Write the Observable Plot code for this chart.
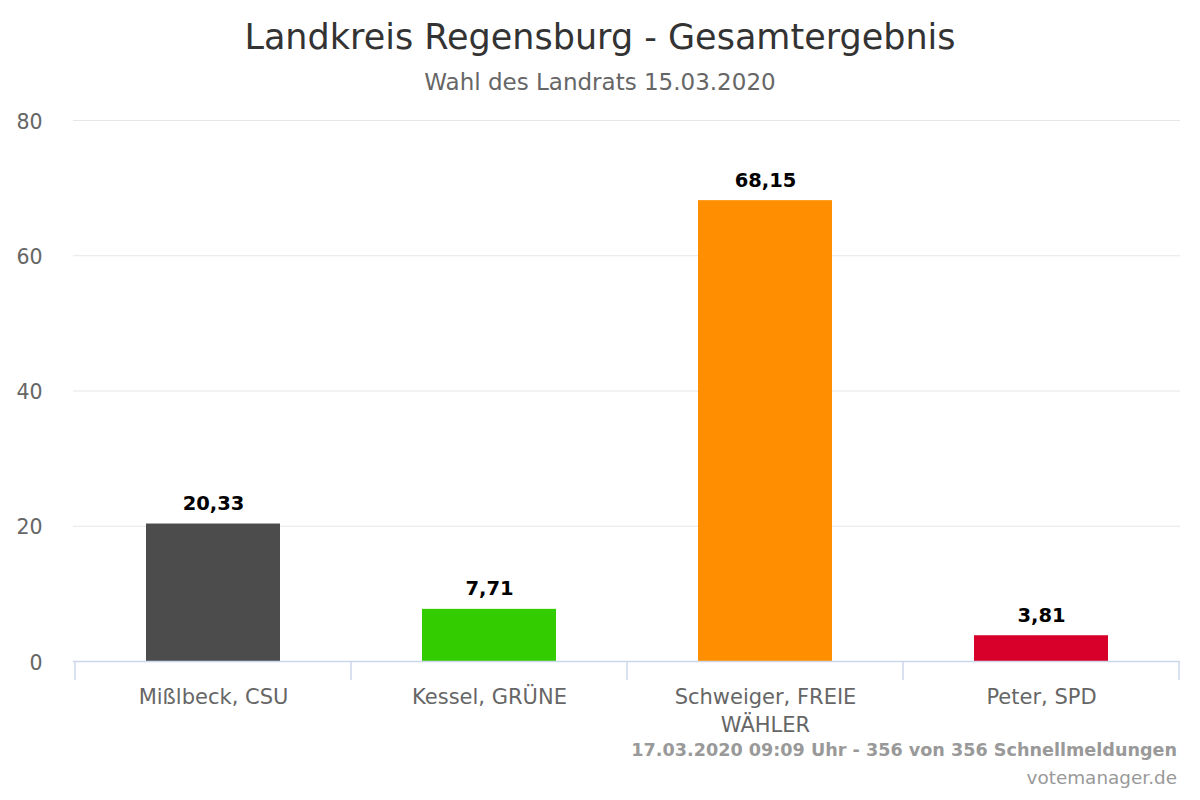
<!DOCTYPE html>
<html>
<head>
<meta charset="utf-8">
<script src="https://cdn.jsdelivr.net/npm/d3@7"></script>
<script src="https://cdn.jsdelivr.net/npm/@observablehq/plot@0.6"></script>
<style>
  html, body { margin: 0; padding: 0; background: #fff; }
  #wrap { position: relative; width: 1200px; height: 800px; font-family: "DejaVu Sans", sans-serif; }
  #wrap div.t { position: absolute; line-height: normal; white-space: nowrap; }
  #title { left: 0; width: 1200px; top: 16.5px; text-align: center; font-size: 35px; color: #333; }
  #subtitle { left: 0; width: 1200px; top: 68.7px; text-align: center; font-size: 23px; color: #666; }
  #credit1 { right: 23px; top: 739.7px; font-size: 17.6px; font-weight: bold; color: #999; }
  #credit2 { right: 23px; top: 767px; font-size: 18.4px; color: #999; }
  #chart { position: absolute; left: 0; top: 0; }
</style>
</head>
<body>
<div id="wrap">
  <div id="chart"></div>
  <div class="t" id="title">Landkreis Regensburg - Gesamtergebnis</div>
  <div class="t" id="subtitle">Wahl des Landrats 15.03.2020</div>
  <div class="t" id="credit1">17.03.2020 09:09 Uhr - 356 von 356 Schnellmeldungen</div>
  <div class="t" id="credit2">votemanager.de</div>
</div>
<script>
const candidates = ["Mißlbeck, CSU", "Kessel, GRÜNE", "Schweiger, FREIE WÄHLER", "Peter, SPD"];
const tickLabels = ["Mißlbeck, CSU", "Kessel, GRÜNE", "Schweiger, FREIE\nWÄHLER", "Peter, SPD"];
const values = [20.33, 7.71, 68.15, 3.81];
const colors = ["#4c4c4c", "#33cc00", "#ff8f00", "#d8002a"];
const yTicks = [0, 20, 40, 60, 80];

const data = candidates.map((c, i) => ({name: c, value: values[i], color: colors[i]}));
const fmt = v => v.toFixed(2).replace(".", ",");
const labelOf = new Map(candidates.map((c, i) => [c, tickLabels[i]]));

const chart = Plot.plot({
  width: 1200,
  height: 800,
  marginTop: 120,
  marginBottom: 139,
  marginLeft: 73,
  marginRight: 20,
  style: {fontFamily: "DejaVu Sans, sans-serif", fontSize: "18px", background: "transparent"},
  x: {domain: candidates, paddingInner: 0.515, paddingOuter: 0.2575, label: null},
  y: {domain: [0, 80], label: null},
  marks: [
    Plot.gridY(yTicks.filter(d => d > 0), {stroke: "#e6e6e6", strokeOpacity: 1, strokeWidth: 1}),
    Plot.barY(data, {x: "name", y: "value", fill: "color"}),
    Plot.text(data, {x: "name", y: "value", text: d => fmt(d.value), dy: -14, lineAnchor: "bottom", fontWeight: "bold", fill: "#000", fontSize: 19.5}),
    Plot.axisY({ticks: yTicks, tickSize: 0, tickPadding: 31, dy: 1.5, fill: "#666", fontSize: 20.5, label: null}),
    Plot.ruleY([0], {stroke: "#ccd6eb", strokeWidth: 1.5}),
    Plot.axisX({tickSize: 0, tickPadding: 23, tickFormat: d => labelOf.get(d), fill: "#666", fontSize: 21, lineHeight: 1.32, label: null})
  ]
});
document.getElementById("chart").appendChild(chart);

// Band-boundary tick marks, positioned with the chart's own scales
const xs = chart.scale("x");
const ys = chart.scale("y");
const ns = "http://www.w3.org/2000/svg";
const g = document.createElementNS(ns, "g");
const step = xs.step, bw = xs.bandwidth;
const bounds = candidates.map(c => xs.apply(c) + bw / 2 - step / 2);
bounds.push(xs.apply(candidates[candidates.length - 1]) + bw / 2 + step / 2);
bounds.forEach(bx => {
  const l = document.createElementNS(ns, "line");
  l.setAttribute("x1", bx); l.setAttribute("x2", bx);
  l.setAttribute("y1", ys.apply(0)); l.setAttribute("y2", ys.apply(0) + 19);
  l.setAttribute("stroke", "#ccd6eb"); l.setAttribute("stroke-width", "1.5");
  g.appendChild(l);
});
chart.appendChild(g);
</script>
</body>
</html>
